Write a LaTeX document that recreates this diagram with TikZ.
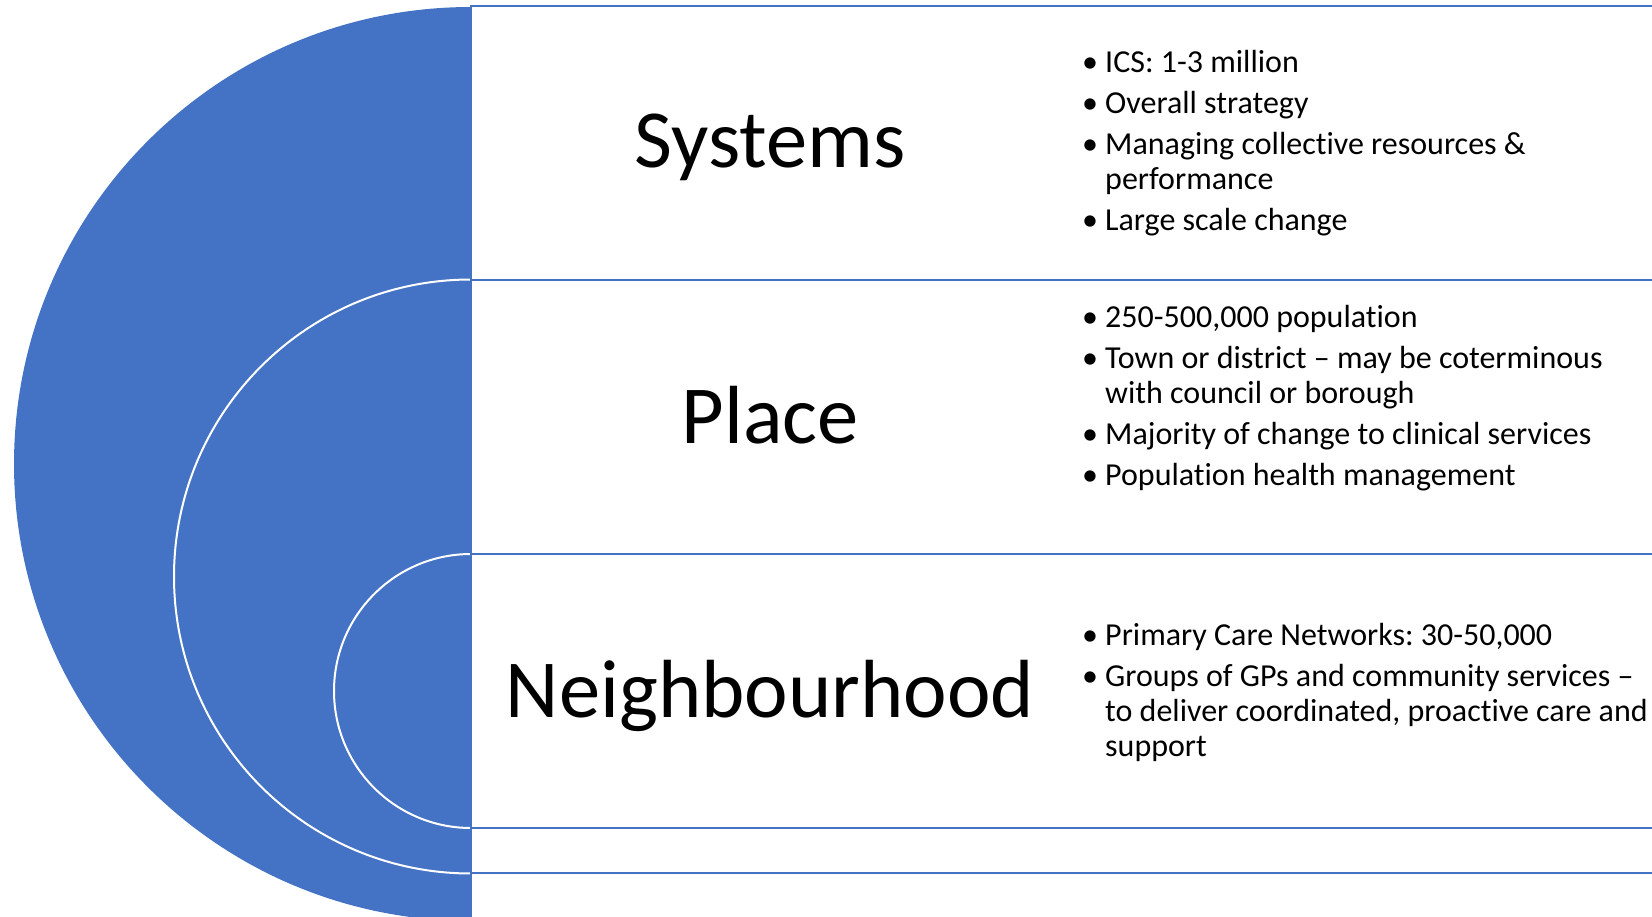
\documentclass[tikz,border=0pt]{standalone}
\usepackage{fontspec}
\setmainfont[Ligatures=NoCommon]{Carlito}
\frenchspacing
\usetikzlibrary{positioning}
\definecolor{tierblue}{HTML}{4472C4}

\tikzset{
  tier/.style={draw=tierblue,line width=2.2pt,fill=white},
  ring/.style={fill=tierblue,draw=white,line width=2pt},
  heading/.style={font=\fontsize{82.5}{99}\selectfont,anchor=base,inner sep=0pt},
  point/.style={font=\fontsize{32}{35}\selectfont,anchor=base west,inner sep=0pt},
  dot/.style={font=\fontsize{32}{35}\selectfont,anchor=base,inner sep=0pt}
}

\begin{document}
\begin{tikzpicture}[x=1pt,y=-1pt]
\useasboundingbox (0,0) rectangle (1652,917);
\clip (0,0) rectangle (1652,917);
% nested half discs on the left
\begin{scope}
  \clip (0,0) rectangle (471,917);
  \fill[tierblue] (471,464) circle[radius=457];
  \draw[ring] (471,576.5) circle[radius=297];
  \draw[ring] (471,691) circle[radius=137];
\end{scope}
% the three tiers, outer one first
\draw[tier] (471,6) rectangle (1700,922);
\draw[tier] (471,280) rectangle (1700,873);
\draw[tier] (471,554) rectangle (1700,828);
% tier names
\node[heading] (systems) at (770,168) {Systems};
\node[heading] (place) at (770,443) {Place};
\node[heading] (nbhd) at (770,717) {Neighbourhood};
% bullets
\foreach \y [count=\i] in {73,114,155,231,327,368,444,485,645,686}
  \node[dot] (dot\i) at (1090,\y) {\textbullet};
% bullet text, one node per line
\foreach \y/\txt [count=\i] in {
  73/{ICS: 1-3 million},
  114/{Overall strategy},
  155/{Managing collective resources \&},
  190/{performance},
  231/{Large scale change},
  327/{250-500,000 population},
  368/{Town or district – may be coterminous},
  403/{with council or borough},
  444/{Majority of change to clinical services},
  485/{Population health management},
  645/{Primary Care Networks: 30-50,000},
  686/{Groups of GPs and community services –},
  721/{to deliver coordinated, proactive care and},
  756/{support}}
  \node[point] (line\i) at (1105,\y) {\txt};
\end{tikzpicture}
\end{document}
